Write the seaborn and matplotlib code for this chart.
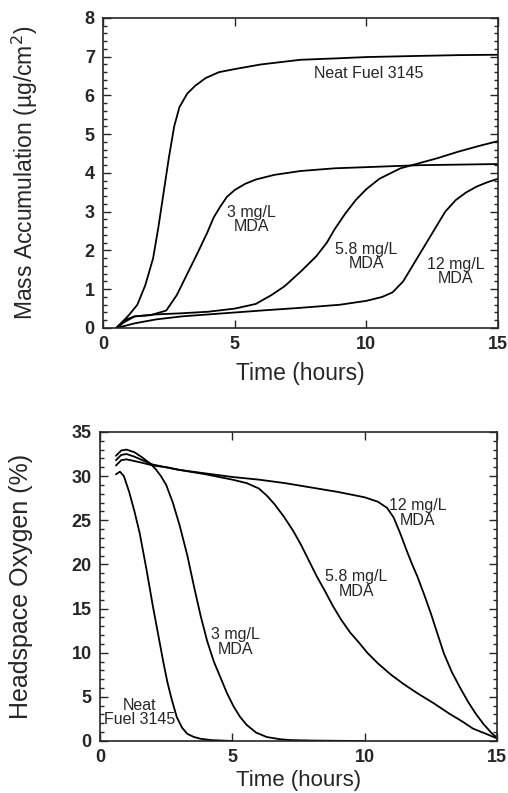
import matplotlib
matplotlib.use('Agg')
import matplotlib.pyplot as plt
from matplotlib.ticker import MultipleLocator
import seaborn as sns
import pandas as pd

# 数据: 质量累积 (上图)
neat_t = [0.5, 0.8, 1.0, 1.3, 1.6, 1.9, 2.1, 2.3, 2.5, 2.7, 2.9, 3.2, 3.5, 3.9, 4.4, 5.0, 6.0, 7.5, 9.0, 10.0, 12.0, 13.5, 15.0]
neat_m = [0.0, 0.2, 0.35, 0.6, 1.1, 1.8, 2.6, 3.5, 4.4, 5.2, 5.7, 6.05, 6.25, 6.45, 6.6, 6.68, 6.8, 6.92, 6.96, 6.99, 7.02, 7.04, 7.05]
mda3_t = [0.5, 0.8, 1.2, 1.8, 2.4, 2.8, 3.2, 3.6, 3.95, 4.2, 4.45, 4.7, 5.0, 5.4, 5.8, 6.5, 7.5, 8.8, 10.0, 12.0, 15.0]
mda3_m = [0.0, 0.2, 0.3, 0.33, 0.45, 0.85, 1.4, 1.95, 2.45, 2.85, 3.13, 3.38, 3.56, 3.72, 3.83, 3.95, 4.05, 4.12, 4.15, 4.2, 4.23]
mda58_t = [0.5, 0.8, 1.2, 2.0, 3.0, 4.0, 5.0, 5.8, 6.4, 6.9, 7.5, 8.1, 8.5, 8.8, 9.2, 9.6, 10.0, 10.5, 11.3, 12.0, 12.7, 13.5, 14.3, 15.0]
mda58_m = [0.0, 0.15, 0.3, 0.35, 0.38, 0.42, 0.5, 0.62, 0.85, 1.08, 1.45, 1.85, 2.2, 2.55, 2.95, 3.3, 3.58, 3.85, 4.12, 4.25, 4.38, 4.55, 4.7, 4.82]
mda12_t = [0.5, 0.8, 1.2, 2.0, 3.0, 4.0, 5.0, 6.0, 7.5, 9.0, 10.0, 10.6, 11.0, 11.4, 11.8, 12.2, 12.6, 13.0, 13.4, 13.8, 14.2, 14.6, 15.0]
mda12_m = [0.0, 0.05, 0.12, 0.22, 0.3, 0.35, 0.4, 0.45, 0.52, 0.6, 0.7, 0.8, 0.92, 1.2, 1.65, 2.1, 2.55, 3.0, 3.3, 3.5, 3.65, 3.76, 3.85]

# 数据: 顶空氧气 (下图)
o_neat_t = [0.6, 0.75, 0.9, 1.1, 1.3, 1.5, 1.75, 2.0, 2.2, 2.4, 2.55, 2.7, 2.9, 3.1, 3.3, 3.55, 3.8, 4.2, 4.6, 5.0]
o_neat_o = [30.2, 30.5, 30.0, 28.2, 26.0, 23.5, 19.5, 15.2, 12.0, 8.8, 6.6, 4.8, 2.7, 1.5, 0.8, 0.45, 0.25, 0.1, 0.05, 0.0]
o_3_t = [0.6, 0.8, 1.0, 1.3, 1.6, 1.9, 2.1, 2.3, 2.5, 2.75, 3.0, 3.3, 3.55, 3.8, 4.05, 4.3, 4.55, 4.8, 5.05, 5.3, 5.55, 5.9, 6.3, 6.8, 7.2, 8.0, 9.0, 10.0]
o_3_o = [32.3, 32.9, 33.0, 32.7, 32.1, 31.4, 30.8, 30.0, 29.0, 27.0, 24.5, 21.0, 17.5, 14.2, 11.3, 9.0, 7.2, 5.4, 3.9, 2.7, 1.8, 0.95, 0.45, 0.2, 0.1, 0.05, 0.02, 0.0]
o_58_t = [0.6, 0.8, 1.0, 1.3, 1.6, 2.0, 2.5, 3.0, 4.0, 5.0, 5.55, 6.0, 6.3, 6.6, 6.95, 7.3, 7.6, 7.9, 8.2, 8.5, 8.8, 9.1, 9.45, 9.8, 10.1, 10.5, 11.0, 11.5, 12.0, 12.6, 13.2, 13.7, 14.1, 14.6, 15.0]
o_58_o = [31.8, 32.4, 32.5, 32.2, 31.8, 31.3, 31.0, 30.7, 30.2, 29.6, 29.2, 28.6, 27.8, 26.8, 25.4, 23.8, 22.2, 20.4, 18.6, 17.0, 15.3, 13.8, 12.3, 11.1, 10.0, 8.8, 7.5, 6.4, 5.4, 4.3, 3.1, 2.2, 1.4, 0.8, 0.3]
o_12_t = [0.6, 0.8, 1.0, 1.3, 1.6, 2.0, 2.5, 3.0, 4.0, 5.0, 6.0, 7.0, 8.0, 9.0, 10.0, 10.5, 10.85, 11.1, 11.35, 11.6, 11.8, 12.0, 12.25, 12.5, 12.75, 13.0, 13.3, 13.6, 13.9, 14.2, 14.5, 14.8, 15.0]
o_12_o = [31.2, 31.8, 31.9, 31.7, 31.5, 31.2, 31.0, 30.7, 30.3, 29.9, 29.6, 29.2, 28.7, 28.2, 27.6, 27.1, 26.4, 25.3, 23.5, 21.5, 20.0, 18.6, 16.6, 14.5, 12.2, 9.9, 7.8, 6.1, 4.5, 3.1, 1.9, 0.9, 0.4]

sns.set_style('ticks')
plt.rcParams['font.family'] = ['Liberation Sans', 'DejaVu Sans']

fig = plt.figure(figsize=(5.08, 7.93), dpi=100)
ax1 = fig.add_axes([0.203, 0.5864, 0.777, 0.391])
ax2 = fig.add_axes([0.197, 0.0656, 0.781, 0.3897])

lw = 1.3
for t, v in [(neat_t, neat_m), (mda3_t, mda3_m), (mda58_t, mda58_m), (mda12_t, mda12_m)]:
    sns.lineplot(x=t, y=v, ax=ax1, color='black', linewidth=lw, sort=False)
for t, v in [(o_neat_t, o_neat_o), (o_3_t, o_3_o), (o_58_t, o_58_o), (o_12_t, o_12_o)]:
    sns.lineplot(x=t, y=v, ax=ax2, color='black', linewidth=lw, sort=False)

# 上图坐标轴
ax1.set_xlim(0, 15)
ax1.set_ylim(0, 8)
ax1.xaxis.set_major_locator(MultipleLocator(5))
ax1.yaxis.set_major_locator(MultipleLocator(1))
ax1.yaxis.set_minor_locator(MultipleLocator(0.2))
ax1.set_xlabel('Time (hours)', fontsize=16.5, labelpad=6)
ax1.set_ylabel('Mass Accumulation (\u00b5g/cm$^2$)', fontsize=16.5, labelpad=32)

# 下图坐标轴
ax2.set_xlim(0, 15)
ax2.set_ylim(0, 35)
ax2.xaxis.set_major_locator(MultipleLocator(5))
ax2.yaxis.set_major_locator(MultipleLocator(5))
ax2.yaxis.set_minor_locator(MultipleLocator(1))
ax2.set_xlabel('Time (hours)', fontsize=16, labelpad=3)
ax2.set_ylabel('Headspace Oxygen (%)', fontsize=18, labelpad=28)

for ax in (ax1, ax2):
    ax.tick_params(which='both', direction='in', top=True, right=True, labelsize=13, width=1, pad=6)
    ax.tick_params(which='major', length=6)
    ax.tick_params(which='minor', length=3)
    ax.tick_params(axis='x', which='minor', top=False, bottom=False)
    for s in ax.spines.values():
        s.set_linewidth(1.2)
        s.set_visible(True)
    for lab in ax.get_xticklabels() + ax.get_yticklabels():
        lab.set_fontweight('bold')

# 标注
kw = dict(fontsize=11.5, ha='center', va='center', linespacing=0.95)
ax1.text(10.1, 6.56, 'Neat Fuel 3145', **kw)
ax1.text(5.65, 2.8, '3 mg/L\nMDA', **kw)
ax1.text(10.0, 1.84, '5.8 mg/L\nMDA', **kw)
ax1.text(13.4, 1.45, '12 mg/L\nMDA', **kw)

ax2.text(1.5, 3.2, 'Neat\nFuel 3145', **kw)
ax2.text(5.13, 11.2, '3 mg/L\nMDA', **kw)
ax2.text(9.7, 17.8, '5.8 mg/L\nMDA', **kw)
ax2.text(12.0, 25.8, '12 mg/L\nMDA', **kw)

fig.savefig('out.png', dpi=100)
